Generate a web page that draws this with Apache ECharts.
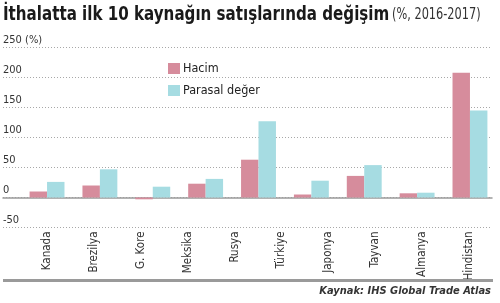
<!DOCTYPE html>
<html>
<head>
<meta charset="utf-8">
<script src="https://cdn.jsdelivr.net/npm/echarts@6/dist/echarts.min.js"></script>
<style>
html, body { margin: 0; padding: 0; background: #fff; }
#chart { width: 500px; height: 303px; }
</style>
</head>
<body>
<div id="chart"></div>
<script>
// eksen etiketleri (10 ulke)
var countries = ['Kanada', 'Brezilya', 'G. Kore', 'Meksika', 'Rusya', 'Türkiye', 'Japonya', 'Tayvan', 'Almanya', 'Hindistan'];
// grafikte 9 cubuk grubu var (orijinal gorselde oldugu gibi)
var groups = ['Kanada', 'Brezilya', 'G. Kore', 'Meksika', 'Rusya', 'Japonya', 'Tayvan', 'Almanya', 'Hindistan'];
var hacim = [10, 20, -3, 23, 63, 5, 36, 7, 208];
var parasal = [26, 47, 18, 31, 127, 28, 54, 8, 145];
var yTicks = [-50, 0, 50, 100, 150, 200, 250];

var fontMain = '"DejaVu Sans Condensed", "Open Sans", sans-serif';
var pink = '#d68c9c';
var cyan = '#a6dce2';
var yMin = yTicks[0], yMax = yTicks[yTicks.length - 1], yStep = yTicks[1] - yTicks[0];

var myChart = echarts.init(document.getElementById('chart'));
var option = {
	animation: false,
	textStyle: { fontFamily: fontMain },
	legend: {
		orient: 'vertical',
		left: 168,
		top: 62,
		padding: 0,
		itemWidth: 12,
		itemHeight: 11,
		itemGap: 9,
		icon: 'rect',
		textStyle: { fontSize: 12.5, color: '#222', fontFamily: fontMain, padding: [0, 0, 0, -2] },
		data: ['Hacim', 'Parasal değer']
	},
	grid: [
		{ left: 3, right: 8, top: 47.5, bottom: 75.5 },
		{ left: 20.6, right: 3.6, top: 47.5, bottom: 75.5 },
		{ left: 23.5, right: 7.5, top: 47.5, bottom: 75.5 }
	],
	xAxis: [
		{
			gridIndex: 0, type: 'value', min: 0, max: 1,
			axisLine: { show: true, onZero: true, lineStyle: { color: '#9a9a9a', width: 1.5 } },
			axisTick: { show: false }, axisLabel: { show: false }, splitLine: { show: false }
		},
		{
			gridIndex: 1, type: 'category', data: groups,
			axisLine: { show: false }, axisTick: { show: false }, axisLabel: { show: false }
		},
		{
			gridIndex: 2, type: 'category', data: countries, position: 'bottom',
			axisLine: { show: false }, axisTick: { show: false },
			axisLabel: { rotate: 90, margin: 4, fontSize: 11.5, color: '#333', fontFamily: fontMain, interval: 0 }
		}
	],
	yAxis: [
		{
			gridIndex: 0, type: 'value', min: yMin, max: yMax, interval: yStep,
			axisLine: { show: false }, axisTick: { show: false },
			axisLabel: {
				inside: true, margin: 0, fontSize: 11, color: '#333', fontFamily: fontMain,
				verticalAlign: 'bottom', lineHeight: 15,
				formatter: function(v) { return v === yMax ? v + ' (%)' : String(v); }
			},
			splitLine: { show: true, lineStyle: { color: '#a8a8a8', type: [1, 2], width: 1 } }
		},
		{
			gridIndex: 1, type: 'value', min: yMin, max: yMax, interval: yStep,
			axisLine: { show: false }, axisTick: { show: false }, axisLabel: { show: false }, splitLine: { show: false }
		},
		{
			gridIndex: 2, type: 'value', min: yMin, max: yMax, interval: yStep,
			axisLine: { show: false }, axisTick: { show: false }, axisLabel: { show: false }, splitLine: { show: false }
		}
	],
	series: [
		{
			name: 'Hacim', type: 'bar', xAxisIndex: 1, yAxisIndex: 1,
			data: hacim, barGap: '0%', barCategoryGap: '34%',
			itemStyle: { color: pink }, z: 3
		},
		{
			name: 'Parasal değer', type: 'bar', xAxisIndex: 1, yAxisIndex: 1,
			data: parasal, barGap: '0%', barCategoryGap: '34%',
			itemStyle: { color: cyan }, z: 3
		}
	],
	graphic: [
		{
			// baslik: dar (condensed) gorunum icin yatayda biraz sikistirildi
			type: 'text', x: 3, y: 5, scaleX: 0.84, z: 10,
			style: {
				text: '{a|İthalatta ilk 10 kaynağın satışlarında değişim} {b|(%, 2016-2017)}',
				rich: {
					a: { fontSize: 20, fontWeight: 'bold', fill: '#1a1a1a', fontFamily: fontMain },
					b: { fontSize: 15, fill: '#333', fontFamily: fontMain }
				}
			}
		},
		{
			type: 'rect', left: 3, top: 279, z: 10,
			shape: { width: 490, height: 3 },
			style: { fill: '#9a9a9a' }
		},
		{
			type: 'text', right: 9, top: 286, z: 10,
			style: {
				text: 'Kaynak: IHS Global Trade Atlas',
				font: 'italic bold 11px ' + fontMain,
				fill: '#333'
			}
		}
	]
};
myChart.setOption(option);
</script>
</body>
</html>
